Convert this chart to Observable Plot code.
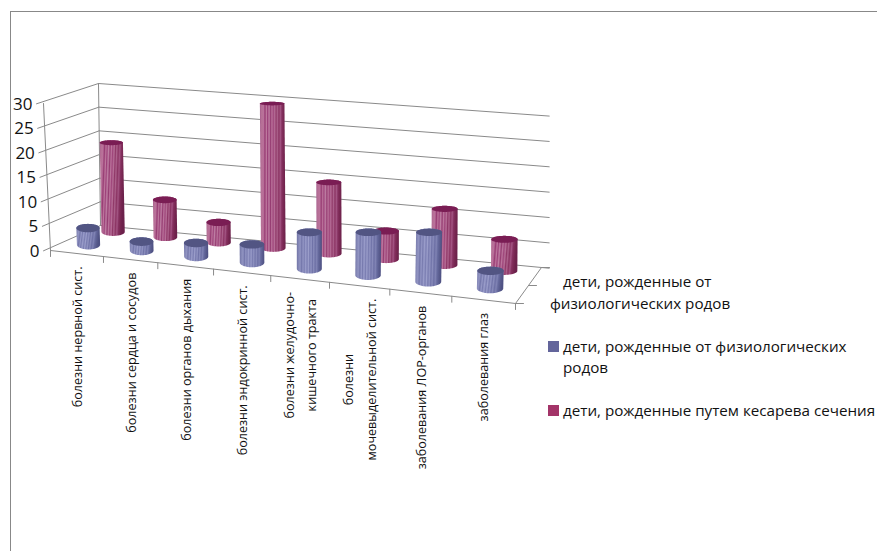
<!DOCTYPE html>
<html lang="ru">
<head>
<meta charset="utf-8">
<script src="https://cdn.jsdelivr.net/npm/d3@7"></script>
<script src="https://cdn.jsdelivr.net/npm/@observablehq/plot@0.6"></script>
<style>
html,body{margin:0;padding:0;background:#fff;overflow:hidden}
#page{position:relative;width:877px;height:551px;font-family:"Open Sans",sans-serif;color:#111}
#frame{position:absolute;left:10px;top:11px;right:0;bottom:0;border-left:1px solid #888;border-top:1px solid #888}
#chart{position:absolute;left:0;top:0}
#chart svg{display:block;background:transparent}
.lg{position:absolute;font-size:15.2px;line-height:21px;white-space:nowrap}
.sw{position:absolute;width:11px;height:11px}
</style>
</head>
<body>
<div id="page">
<div id="frame"></div>
<div id="chart"></div>
<div id="legend"></div>
</div>
<script>
const categories = [
  "болезни нервной сист.",
  "болезни сердца и сосудов",
  "болезни органов дыхания",
  "болезни эндокринной сист.",
  "болезни желудочно-\nкишечного тракта",
  "болезни\nмочевыделительной сист.",
  "заболевания ЛОР-органов",
  "заболевания глаз"
];
const natural = [3.8, 2.2, 3.1, 4, 7.6, 8.8, 10, 3.8];
const cesarean = [19, 8.1, 4.5, 29.7, 14.7, 6, 11.5, 6.6];
const valueTicks = [0, 5, 10, 15, 20, 25, 30];
const seriesNames = [
  "дети, рожденные от физиологических родов",
  "дети, рожденные путем кесарева сечения"
];

// camera: floor corners and wall heights of the 3D box, in screen units
const FL = [50, 250], FR = [515, 303], BR = [541, 267], BL = [100, 225];
const lerp = (a,b,t) => a+(b-a)*t;
const lerp2 = (a,b,c,d,u,w) => lerp(lerp(a,b,u),lerp(d,c,u),w);
const along = (u,a) => u*a/(1+u*(a-1));
// u across categories, w into depth, v value
function project(u, w, v) {
  const tf = along(u,.9), tb = along(u,.92);
  const fx = lerp(lerp(FL[0],FR[0],tf),lerp(BL[0],BR[0],tb),w);
  const fy = lerp(lerp(FL[1],FR[1],tf),lerp(BL[1],BR[1],tb),w);
  const rise = lerp2(147,158,152,142,u,w)/30;
  const lean = lerp2(-7,6,0,-2,u,w)/30;
  return [fx+lean*v, fy-rise*v];
}

const angles = d3.range(0, 41).map(i => i/40);
function barShape(i, w, v) {
  const u = (i+.5)/categories.length;
  const rx = 11.5+1.8*u;
  const ryTop = Math.max(1.8, (w < .5 ? 4.5 : 4)-.08*v);
  const ryBase = w < .5 ? 4.8 : 4;
  const [bx,by] = project(u,w,.4), [tx,ty] = project(u,w,v);
  const body = [], cap = [];
  for (const a of angles) {
    const c = -Math.cos(a*Math.PI), s = Math.sin(a*Math.PI);
    body.push({x1:bx+rx*c, y1:by+ryBase*s, x2:tx+rx*c, y2:ty-ryTop*s});
    cap.push({x:tx+rx*c, y1:ty+ryTop*s, y2:ty-ryTop*s});
  }
  return {body,cap};
}

const stripeOffsets = [0,.06,.14,.2,.26,.3,.36,.42,.47,.52,.58,.63,.68,.74,.8,.86,.94,1];
const ramps = {
  blue: ["#6f72a4","#8083b3","#9194c2","#7477ab","#9598c6","#787baf","#9a9dca","#7b7eb2","#9c9fcb","#797cb0","#9194c2","#7073a8","#8a8dbc","#6d70a5","#8083b4","#666a9e","#585b8d","#4f5284"],
  mag: ["#a65c8e","#b56f95","#ba729b","#983d74","#be789e","#9c4079","#bf80a4","#963c72","#bc769d","#9f467b","#b66f97","#903868","#ac628c","#8c3564","#a25482","#85305f","#762650","#6c214b"]
};
const tilt = [.14,.07,.05,.01,.01,.03,.06,.12];

const defsMark = () => {
  const g = d3.create("svg:defs");
  for (const key of ["blue","mag"]) tilt.forEach((t,i) => {
    const lg = g.append("linearGradient").attr("id",key+i)
      .attr("x1",0).attr("x2",1).attr("y1",0).attr("y2",t);
    ramps[key].forEach((c,k) => lg.append("stop").attr("offset",stripeOffsets[k]).attr("stop-color",c));
  });
  return g.node();
};

const gridColor = "#8a8a8a";
const segment = (a,b,extra={}) => Plot.line([a,b],{x:d=>d[0],y:d=>d[1],stroke:gridColor,strokeWidth:1,...extra});
const marks = [defsMark];

// walls
for (const v of valueTicks) {
  const f = project(0,0,v), b = project(0,1,v), r = project(1.016,1,v);
  marks.push(segment([f[0]-7,f[1]+.3],b), segment(b,r));
}
marks.push(segment(project(0,0,0),project(0,0,30)));
marks.push(segment(project(0,1,0),project(0,1,30)));
// floor
marks.push(segment(project(0,0,0),project(1,0,0)));
marks.push(segment(project(1,0,0),project(1,1,0)));
categories.concat([""]).forEach((_,i) => {
  const p = project(i/categories.length,0,0);
  marks.push(segment(p,[p[0],p[1]+6]));
});
[0,.5,1].forEach(w => {
  const p = project(1,w,0);
  marks.push(segment(p,[p[0]+8,p[1]]));
});

// cylinders, back row first
const drawRow = (values,w,key,capColor) => values.forEach((v,i) => {
  const {body,cap} = barShape(i,w,v);
  marks.push(Plot.area(body,{x1:"x1",y1:"y1",x2:"x2",y2:"y2",fill:`url(#${key}${i})`}));
  marks.push(Plot.area(cap,{x1:"x",x2:"x",y1:"y1",y2:"y2",fill:capColor}));
});
drawRow(cesarean,.75,"mag","#7a1d54");
drawRow(natural,.25,"blue","#525583");

// value labels
marks.push(Plot.text(valueTicks,{
  x:v=>project(0,0,v)[0]-11, y:v=>project(0,0,v)[1]+1,
  text:String, textAnchor:"end", fontSize:17, fill:"#111"
}));

// category labels
const ctx = document.createElement("canvas").getContext("2d");
ctx.font = '12.6px "Open Sans"';
const longest = t => d3.max(t.split("\n"),s=>ctx.measureText(s).width);
marks.push(Plot.text(categories,{
  x:(t,i)=>project((i+.5)/categories.length,0,0)[0],
  y:(t,i)=>project((i+.5)/categories.length,0,0)[1]+13+longest(t)/2,
  text:d=>d, rotate:-90, textAnchor:"middle", fontSize:12.6, lineHeight:1.75, dx:-2, fill:"#111"
}));

const plot = Plot.plot({
  width:877,height:551,margin:0,
  x:{domain:[0,877],range:[0,877],axis:null},
  y:{domain:[0,551],range:[0,551],axis:null},
  style:{background:"transparent",fontFamily:'"Open Sans",sans-serif'},
  marks
});
document.getElementById("chart").append(plot);

const legend = d3.select("#legend");
const headLines = [["дети, рожденные от",563,271],["физиологических родов",550,293]];
headLines.forEach(([t,l,tp]) => legend.append("div").attr("class","lg").style("left",l+"px").style("top",tp+"px").text(t));
legend.append("div").attr("class","sw").style("left","548px").style("top","341px").style("background","#63659b");
legend.append("div").attr("class","lg").style("left","563px").style("top","336px").style("width","300px").style("white-space","normal").text(seriesNames[0]);
legend.append("div").attr("class","sw").style("left","548px").style("top","405px").style("background","#a33468");
legend.append("div").attr("class","lg").style("left","563px").style("top","400px").text(seriesNames[1]);
</script>
</body>
</html>
